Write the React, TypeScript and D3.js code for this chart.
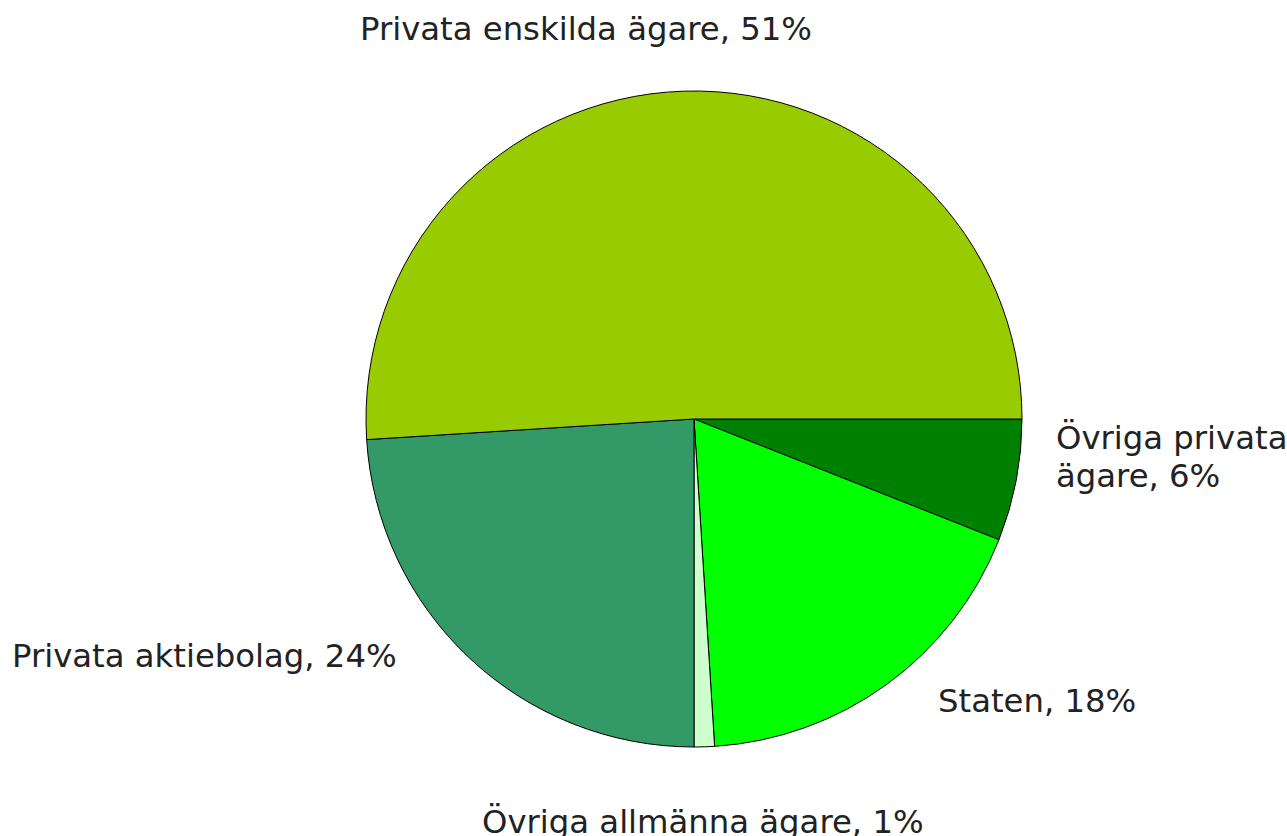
import React from "react";
import * as d3 from "d3";

const categories = [
  "Övriga privata ägare",
  "Staten",
  "Övriga allmänna ägare",
  "Privata aktiebolag",
  "Privata enskilda ägare",
];
const values = [6, 18, 1, 24, 51];
const colors = ["#008000", "#00FF00", "#CCFFCC", "#339966", "#99CC00"];

const W = 1287;
const H = 836;
const cx = 694;
const cy = 419;
const R = 328;
const FS = 32.3;

// label layout: [x, y, anchor, lines]
const labelLayout: { x: number; y: number; anchor: string; lines: string[] }[] = [
  { x: 1056, y: 449, anchor: "start", lines: ["Övriga privata", "ägare, 6%"] },
  { x: 938, y: 712, anchor: "start", lines: ["Staten, 18%"] },
  { x: 482, y: 833, anchor: "start", lines: ["Övriga allmänna ägare, 1%"] },
  { x: 12, y: 667, anchor: "start", lines: ["Privata aktiebolag, 24%"] },
  { x: 586, y: 40, anchor: "middle", lines: ["Privata enskilda ägare, 51%"] },
];

export default function App() {
  const pie = d3
    .pie<number>()
    .sort(null)
    .startAngle(Math.PI / 2)
    .endAngle(Math.PI / 2 + 2 * Math.PI);
  const arcs = pie(values);
  const arc = d3.arc<d3.PieArcDatum<number>>().innerRadius(0).outerRadius(R);

  return (
    <svg
      width={W}
      height={H}
      style={{ position: "absolute", left: 0, top: 0, background: "#fff" }}
      fontFamily="'DejaVu Sans', Verdana, sans-serif"
    >
      <g transform={`translate(${cx},${cy})`}>
        {arcs.map((a, i) => (
          <path
            key={i}
            d={arc(a) || ""}
            fill={colors[i]}
            stroke="#000"
            strokeWidth={1}
          />
        ))}
      </g>
      {labelLayout.map((l, i) => (
        <text
          key={i}
          x={l.x}
          y={l.y}
          textAnchor={l.anchor}
          fontSize={FS}
          fill="#222"
        >
          {l.lines.length === 1
            ? `${categories[i]}, ${values[i]}%`
            : l.lines.map((t, j) => (
                <tspan key={j} x={l.x} dy={j === 0 ? 0 : 38}>
                  {t}
                </tspan>
              ))}
        </text>
      ))}
    </svg>
  );
}
